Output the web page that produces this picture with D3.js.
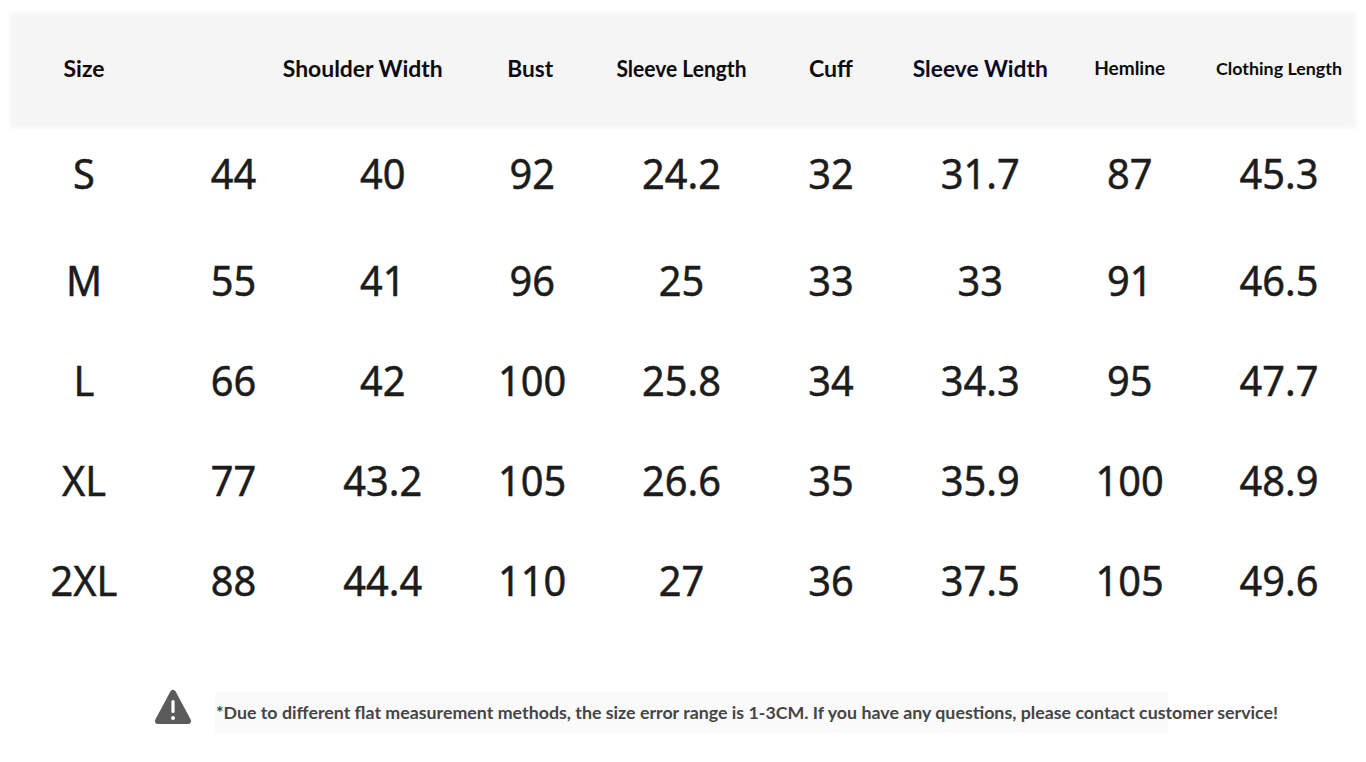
<!DOCTYPE html>
<html>
<head>
<meta charset="utf-8">
<script src="https://cdn.jsdelivr.net/npm/d3@7"></script>
<style>
  html, body { margin: 0; padding: 0; background: #fff; }
  svg { display: block; }
</style>
</head>
<body>
<div id="chart"></div>
<script>
// Table contents
const sizes = ["S", "M", "L", "XL", "2XL"];
const headers = ["Size", "", "Shoulder Width", "Bust", "Sleeve Length", "Cuff", "Sleeve Width", "Hemline", "Clothing Length"];
const col2 = [44, 55, 66, 77, 88];
const shoulderWidth = [40, 41, 42, 43.2, 44.4];
const bust = [92, 96, 100, 105, 110];
const sleeveLength = [24.2, 25, 25.8, 26.6, 27];
const cuff = [32, 33, 34, 35, 36];
const sleeveWidth = [31.7, 33, 34.3, 35.9, 37.5];
const hemline = [87, 91, 95, 100, 105];
const clothingLength = [45.3, 46.5, 47.7, 48.9, 49.6];
const note = "*Due to different flat measurement methods, the size error range is 1-3CM. If you have any questions, please contact customer service!";

const columns = [sizes, col2, shoulderWidth, bust, sleeveLength, cuff, sleeveWidth, hemline, clothingLength];

const width = 1366;
const height = 762;

const svg = d3.select("#chart")
    .append("svg")
    .attr("width", width)
    .attr("height", height);

// soft blur for the header band edges
const defs = svg.append("defs");
defs.append("filter")
    .attr("id", "soft")
    .attr("x", "-5%").attr("y", "-20%").attr("width", "110%").attr("height", "140%")
    .append("feGaussianBlur")
    .attr("stdDeviation", 2);

const x = d3.scalePoint()
    .domain(d3.range(headers.length))
    .range([84, 1279]);

// rows are not evenly spaced in the original (first gap is wider)
const y = d3.scaleOrdinal()
    .domain(sizes)
    .range([173, 280, 380, 480, 580]);

// Header band
svg.append("rect")
    .attr("x", 10)
    .attr("y", 12)
    .attr("width", 1346)
    .attr("height", 116)
    .attr("fill", "#f5f5f6")
    .attr("filter", "url(#soft)");

// header font sizes / widths (styling only)
const headerSize = [23, 23, 23, 23, 22, 23, 23, 18, 17];
const headerWidth = [41, 0, 160, 46, 130, 44, 135, 71, 126];
const headerShift = [0, 0, -20, -2, 0, 0, 0, 0, 0];
const headerColor = ["#140808", "#111", "#0c0c0c", "#0c0c14", "#0c0c0c", "#0c0c0c", "#0a0a24", "#0c0c0c", "#0c0c0c"];

svg.append("g")
    .selectAll("text")
    .data(headers)
    .join("text")
    .attr("x", (d, i) => x(i) + headerShift[i])
    .attr("y", 68)
    .attr("text-anchor", "middle")
    .attr("dominant-baseline", "central")
    .attr("font-family", "Lato, 'Open Sans', sans-serif")
    .attr("font-weight", 700)
    .attr("font-size", (d, i) => headerSize[i])
    .attr("fill", (d, i) => headerColor[i])
    .each(function(d, i) {
        if (d) d3.select(this).attr("textLength", headerWidth[i]).attr("lengthAdjust", "spacingAndGlyphs");
    })
    .text(d => d);

// Body cells
const cells = [];
columns.forEach((col, ci) => {
    col.forEach((v, ri) => cells.push({col: ci, size: sizes[ri], value: v}));
});

svg.append("g")
    .selectAll("text")
    .data(cells)
    .join("text")
    .attr("transform", d => `translate(${x(d.col)},${y(d.size)}) scale(0.97,1)`)
    .attr("text-anchor", "middle")
    .attr("dominant-baseline", "central")
    .attr("font-family", "'Noto Sans', 'Open Sans', sans-serif")
    .attr("font-weight", 400)
    .attr("font-size", 41)
    .attr("fill", "#1c1c1c")
    .attr("stroke", "#1c1c1c")
    .attr("stroke-width", 0.5)
    .text(d => d.value);

// Footer note
svg.append("rect")
    .attr("x", 215)
    .attr("y", 692)
    .attr("width", 953)
    .attr("height", 41)
    .attr("fill", "#fafafa");

const icon = svg.append("g")
    .attr("transform", "translate(173,708)");

icon.append("path")
    .attr("d", d3.line().curve(d3.curveLinearClosed)([[0, -15], [15, 13], [-15, 13]]))
    .attr("fill", "#5b5b5b")
    .attr("stroke", "#5b5b5b")
    .attr("stroke-width", 6)
    .attr("stroke-linejoin", "round");

icon.append("rect")
    .attr("x", -1.6)
    .attr("y", -8)
    .attr("width", 3.2)
    .attr("height", 13)
    .attr("rx", 1.5)
    .attr("fill", "#fff");

icon.append("circle")
    .attr("cx", 0)
    .attr("cy", 10)
    .attr("r", 2)
    .attr("fill", "#fff");

svg.append("text")
    .attr("x", 216)
    .attr("y", 712)
    .attr("dominant-baseline", "central")
    .attr("font-family", "Lato, 'Open Sans', sans-serif")
    .attr("font-weight", 700)
    .attr("font-size", 17)
    .attr("fill", "#454545")
    .attr("textLength", 1062)
    .attr("lengthAdjust", "spacingAndGlyphs")
    .text(note);
</script>
</body>
</html>
